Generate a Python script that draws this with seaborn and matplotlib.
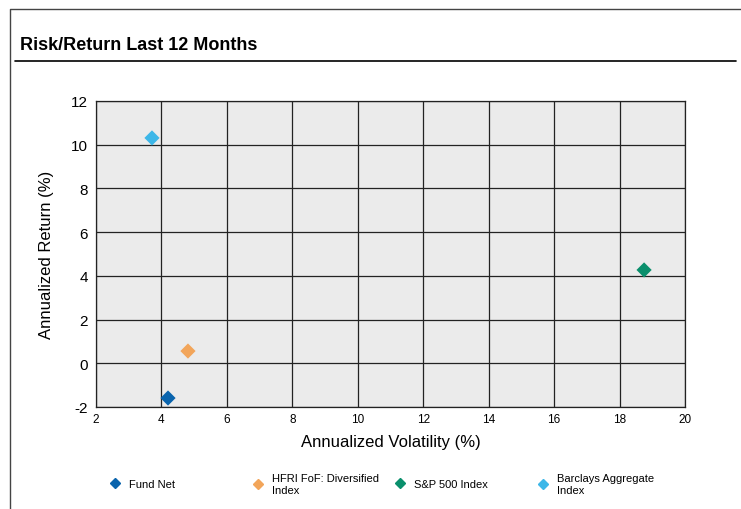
import numpy as np
import pandas as pd
import matplotlib
matplotlib.use("Agg")
import matplotlib.pyplot as plt
import seaborn as sns
from matplotlib.lines import Line2D

# data
names = ["Fund Net", "HFRI FoF: Diversified Index", "S&P 500 Index", "Barclays Aggregate Index"]
legend_labels = ["Fund Net", "HFRI FoF: Diversified\nIndex", "S&P 500 Index", "Barclays Aggregate\nIndex"]
volatility = [4.20, 4.81, 18.75, 3.71]
annual_return = [-1.59, 0.56, 4.27, 10.31]
colors = ["#0a64ad", "#f2a55a", "#0a8f6c", "#3db7e8"]

x_ticks = [2, 4, 6, 8, 10, 12, 14, 16, 18, 20]
y_ticks = [-2, 0, 2, 4, 6, 8, 10, 12]

df = pd.DataFrame({"name": names, "vol": volatility, "ret": annual_return})

sns.set_style("white")
plt.rcParams["font.family"] = ["Liberation Sans", "DejaVu Sans"]
plt.rcParams["text.color"] = "black"
plt.rcParams["axes.labelcolor"] = "black"
plt.rcParams["xtick.color"] = "black"
plt.rcParams["ytick.color"] = "black"

fig = plt.figure(figsize=(7.41, 5.10), dpi=100)
ax = fig.add_axes([0.1296, 0.2, 0.7948, 0.6])

sns.scatterplot(
    data=df, x="vol", y="ret", hue="name",
    palette=dict(zip(names, colors)),
    marker="D", s=60, linewidth=0,
    legend=False, ax=ax, zorder=3
)

ax.set_facecolor("#ebebeb")
ax.set_xlim(2, 20)
ax.set_ylim(-2, 12)
ax.set_xticks(x_ticks)
ax.set_yticks(y_ticks)
ax.set_xticklabels([str(t) for t in x_ticks], fontsize=8.5)
ax.set_yticklabels([str(t) for t in y_ticks], fontsize=11)
ax.grid(True, color="#222222", linewidth=0.9)
ax.set_axisbelow(True)
for sp in ax.spines.values():
    sp.set_color("#222222")
    sp.set_linewidth(0.9)
ax.tick_params(length=0, pad=4)
ax.tick_params(axis="y", pad=6)

ax.set_xlabel("Annualized Volatility (%)", fontsize=12, labelpad=7)
ax.set_ylabel("Annualized Return (%)", fontsize=12, labelpad=12)

# title and frame lines
fig.text(20 / 741, 1 - 45 / 510, "Risk/Return Last 12 Months",
         fontsize=13, fontweight="bold", va="center", ha="left")
fig.add_artist(Line2D([15 / 741, 736 / 741], [1 - 62 / 510] * 2,
                      color="black", linewidth=1.2, transform=fig.transFigure))
fig.add_artist(Line2D([10 / 741, 10 / 741, 1.0], [0, 1 - 10 / 510, 1 - 10 / 510],
                      color="#444444", linewidth=1, transform=fig.transFigure))

# legend entries spread evenly under the plot
legend_x = [111, 254, 396, 539]
for lx, lab, c in zip(legend_x, legend_labels, colors):
    h = Line2D([], [], marker="D", color=c, linestyle="none", markersize=5.5)
    fig.legend(handles=[h], labels=[lab], loc="center left",
               bbox_to_anchor=(lx / 741, 1 - 485 / 510), frameon=False,
               fontsize=8, handletextpad=0.8, handlelength=0.8,
               borderpad=0, borderaxespad=0)

fig.savefig("out.png", dpi=100)
